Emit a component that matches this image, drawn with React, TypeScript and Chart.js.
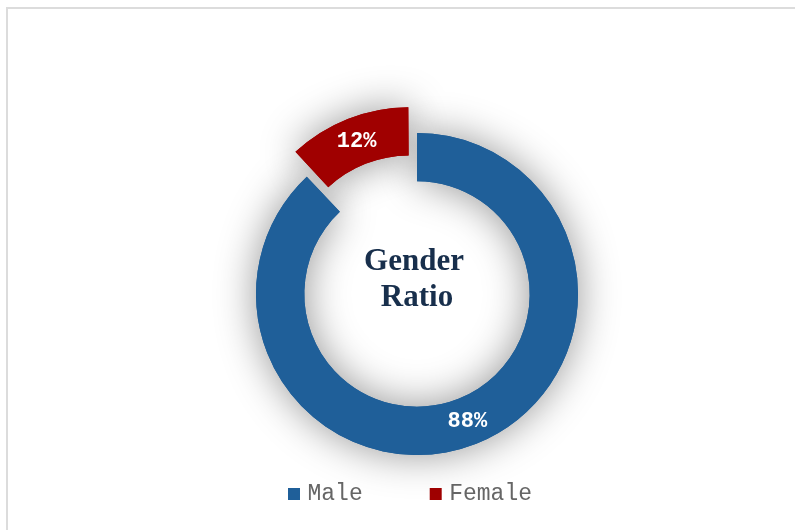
import React, { useEffect, useRef } from "react";
import { Chart, registerables } from "chart.js";

Chart.register(...registerables);

const categories: string[] = ["Male", "Female"];
const values: number[] = [88, 12];
const sliceColors: string[] = ["#1f5f99", "#a00000"];
const sliceOffsets: number[] = [0, 83];
const centerLines: string[] = ["Gender", "Ratio"];

const shadowPlugin = {
  id: "ringShadow",
  beforeDatasetsDraw(chart: any) {
    const ctx = chart.ctx;
    const meta = chart.getDatasetMeta(0);
    meta.data.forEach((arc: any) => {
      ctx.save();
      ctx.shadowColor = "rgba(0,0,0,0.42)";
      ctx.shadowBlur = 40;
      arc.draw(ctx);
      ctx.restore();
    });
  },
};

const labelPlugin = {
  id: "sliceLabels",
  afterDatasetsDraw(chart: any) {
    const ctx = chart.ctx;
    const meta = chart.getDatasetMeta(0);
    const data = chart.data.datasets[0].data as number[];
    const total = data.reduce((a, b) => a + b, 0);
    meta.data.forEach((arc: any, i: number) => {
      const p = arc.getProps(["x", "y", "startAngle", "endAngle", "innerRadius", "outerRadius", "circumference"], true);
      const mid = (p.startAngle + p.endAngle) / 2;
      const off = (arc.options.offset || 0) / 4;
      const fix = 1 - Math.sin(Math.min(Math.PI, p.circumference || 0));
      const shift = off + off * fix;
      const r = (p.innerRadius + p.outerRadius) / 2 + shift;
      const x = p.x + Math.cos(mid) * r;
      const y = p.y + Math.sin(mid) * r;
      ctx.save();
      ctx.fillStyle = "#ffffff";
      ctx.font = "bold 22px 'Courier New', 'Liberation Mono', monospace";
      ctx.textAlign = "center";
      ctx.textBaseline = "middle";
      ctx.fillText(Math.round((data[i] / total) * 100) + "%", x, y);
      ctx.restore();
    });
  },
};

const centerTextPlugin = {
  id: "centerText",
  afterDraw(chart: any) {
    const ctx = chart.ctx;
    const arc = chart.getDatasetMeta(0).data[0];
    if (!arc) return;
    const cx = arc.x;
    const cy = arc.y;
    ctx.save();
    ctx.fillStyle = "#182f4c";
    ctx.font = "bold 31px 'Times New Roman', 'Liberation Serif', serif";
    ctx.textAlign = "center";
    ctx.textBaseline = "alphabetic";
    ctx.fillText(centerLines[0], cx - 3, cy - 24);
    ctx.fillText(centerLines[1], cx, cy + 12);
    ctx.restore();
  },
};

export default function App() {
  const canvasRef = useRef<HTMLCanvasElement | null>(null);

  useEffect(() => {
    const canvas = canvasRef.current;
    if (!canvas) return;
    const chart = new Chart(canvas, {
      type: "doughnut",
      data: {
        labels: categories,
        datasets: [
          {
            data: values,
            backgroundColor: sliceColors,
            borderWidth: 0,
            offset: sliceOffsets,
            radius: 161,
            cutout: "70%",
            hoverOffset: 0,
          } as any,
        ],
      },
      options: {
        responsive: false,
        animation: false,
        devicePixelRatio: 1,
        clip: false as any,
        layout: {
          padding: { left: 221, right: 182, top: 176.5, bottom: 14.5 },
        },
        plugins: {
          tooltip: { enabled: false },
          legend: {
            display: true,
            position: "bottom",
            align: "start",
            labels: {
              usePointStyle: true,
              pointStyle: "rect",
              boxWidth: 4,
              boxHeight: 12,
              padding: 71,
              color: "#666666",
              font: { size: 23, family: "'Courier New', 'Liberation Mono', monospace" },
            },
          },
        },
      } as any,
      plugins: [shadowPlugin, labelPlugin, centerTextPlugin],
    });
    return () => chart.destroy();
  }, []);

  return (
    <div style={{ position: "fixed", left: 0, top: 0, width: 795, height: 530, overflow: "hidden", background: "#fff" }}>
      <div
        style={{
          position: "absolute",
          left: 6,
          top: 7,
          width: 900,
          height: 700,
          borderTop: "2px solid #dcdcdc",
          borderLeft: "2px solid #dcdcdc",
        }}
      />
      <canvas ref={canvasRef} width={795} height={530} style={{ position: "absolute", left: 0, top: 0, display: "block" }} />
    </div>
  );
}
